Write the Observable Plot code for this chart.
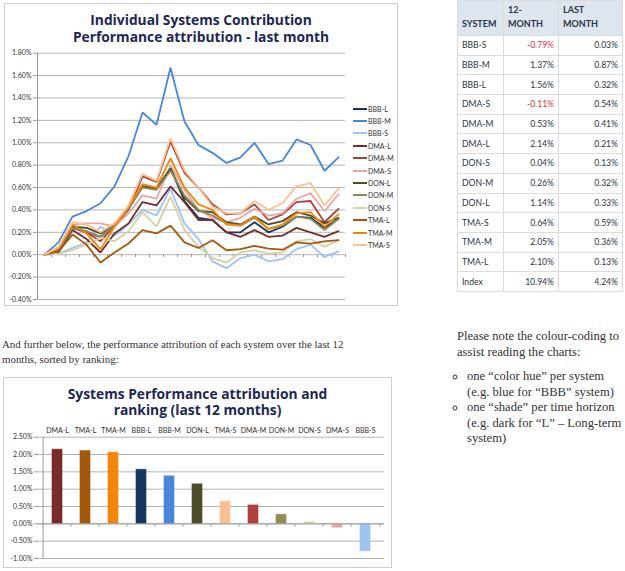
<!DOCTYPE html>
<html><head><meta charset="utf-8">
<script src="https://cdn.jsdelivr.net/npm/d3@7"></script>
<script src="https://cdn.jsdelivr.net/npm/@observablehq/plot@0.6"></script>
<style>
body{margin:0;width:625px;height:571px;position:relative;background:#fff;overflow:hidden;font-family:Lato,sans-serif}
.abs{position:absolute}
.box{position:absolute;box-sizing:border-box;border:1px solid #cfcfcf;background:#fff}
.ctitle{position:absolute;left:0;right:0;text-align:center;font-family:"Open Sans",sans-serif;font-weight:700;font-size:13.8px;line-height:16.5px;color:#1d2756}
.legend{position:absolute;font-family:Lato,sans-serif;font-size:7px;color:#333}
.legend div{height:12.4px;display:flex;align-items:center}
.legend span.sw{display:inline-block;width:14px;height:2px;margin-right:1px}
table{position:absolute;border-collapse:collapse;font-family:Lato,sans-serif;font-size:8.6px;color:#2b3445}
td,th{border:1px solid #dcdcdc;padding:0 4px}
th{background:#dde5ef;font-weight:700;text-align:left;vertical-align:bottom;padding-bottom:4px;line-height:14px;color:#2b3445;font-size:9px}
td{height:18.7px}
td.num{text-align:right}
td.neg{color:#e0303a}
.para{position:absolute;font-family:"Liberation Serif",serif;color:#333}
ul{margin:9px 0 0 0;padding-left:10px;list-style:circle}
li{padding-left:0}
</style></head><body>

<div class="box" style="left:4px;top:3px;width:394px;height:303px" id="lineBox">
  <div class="ctitle" style="top:8px">Individual Systems Contribution<br>Performance attribution - last month</div>
</div>

<table id="tbl" style="left:457px;top:0px;width:166px"></table>

<div class="para" style="left:2px;top:337px;width:350px;font-size:10.9px;line-height:14.5px">And further below, the performance attribution of each system over the last 12<br>months, sorted by ranking:</div>

<div class="para" style="left:457px;top:328px;width:175px;font-size:12.6px;line-height:16px;white-space:nowrap">Please note the colour-coding to<br>assist reading the charts:
<ul style="line-height:15.6px">
<li>one “color hue” per system<br>(e.g. blue for “BBB” system)</li>
<li>one “shade” per time horizon<br>(e.g. dark for “L” – Long-term<br>system)</li>
</ul></div>

<div class="box" style="left:3px;top:377px;width:389px;height:191px" id="barBox">
  <div class="ctitle" style="top:8px;line-height:15.5px">Systems Performance attribution and<br>ranking (last 12 months)</div>
</div>

<script>
// ---------- line chart data (cumulative contribution, %) ----------
const periods = [1,2,3,4,5,6,7,8,9,10,11,12,13,14,15,16,17,18,19,20,21,22];
const systems = ["BBB-L","BBB-M","BBB-S","DMA-L","DMA-M","DMA-S","DON-L","DON-M","DON-S","TMA-L","TMA-M","TMA-S"];
const systemColors = ["#17375e","#4a86d8","#9dc3ee","#772c2a","#b0403c","#e6a6a5","#4e4b2b","#948a54","#d8cfa8","#a4580c","#f0870a","#fbc08f"];
const bbbL = [0,0.03,0.24,0.20,0.16,0.26,0.41,0.61,0.59,0.77,0.48,0.33,0.31,0.20,0.20,0.29,0.20,0.25,0.34,0.33,0.24,0.32];
const bbbM = [0,0.11,0.34,0.39,0.46,0.61,0.88,1.27,1.16,1.67,1.19,0.98,0.91,0.82,0.87,1.00,0.81,0.84,1.03,0.98,0.75,0.87];
const bbbS = [0,0.01,0.06,0.11,0.25,0.17,0.27,0.40,0.35,0.59,0.28,0.14,-0.06,-0.12,-0.03,0.00,-0.06,-0.04,0.05,0.09,-0.02,0.03];
const dmaL = [0,0.02,0.22,0.14,0.02,0.19,0.28,0.47,0.44,0.61,0.47,0.31,0.31,0.20,0.16,0.22,0.16,0.17,0.24,0.20,0.16,0.21];
const dmaM = [0,0.05,0.26,0.20,0.12,0.26,0.40,0.70,0.65,1.01,0.73,0.60,0.45,0.36,0.37,0.45,0.31,0.36,0.47,0.48,0.29,0.41];
const dmaS = [0,0.06,0.27,0.28,0.28,0.25,0.37,0.53,0.50,0.80,0.58,0.40,0.33,0.29,0.33,0.41,0.35,0.37,0.50,0.55,0.39,0.54];
const donL = [0,0.03,0.25,0.24,0.19,0.27,0.42,0.61,0.59,0.77,0.51,0.39,0.38,0.29,0.27,0.34,0.27,0.30,0.38,0.35,0.28,0.33];
const donM = [0,0.04,0.24,0.21,0.16,0.26,0.41,0.60,0.58,0.75,0.53,0.40,0.35,0.28,0.26,0.33,0.23,0.26,0.34,0.32,0.22,0.32];
const donS = [0,0.01,0.04,0.09,0.15,0.12,0.21,0.38,0.25,0.52,0.22,0.07,-0.03,-0.07,0.02,0.04,0.01,0.02,0.12,0.14,0.07,0.13];
const tmaL = [0,0.03,0.18,0.09,-0.07,0.02,0.10,0.22,0.19,0.26,0.11,0.06,0.13,0.04,0.05,0.08,0.055,0.045,0.11,0.10,0.12,0.13];
const tmaM = [0,0.06,0.27,0.19,0.05,0.25,0.43,0.63,0.60,0.86,0.60,0.45,0.40,0.27,0.26,0.34,0.23,0.27,0.37,0.38,0.25,0.36];
const tmaS = [0,0.07,0.29,0.27,0.20,0.28,0.44,0.72,0.66,1.04,0.75,0.60,0.43,0.37,0.37,0.48,0.40,0.46,0.61,0.64,0.44,0.59];
const lineTicks = [-0.4,-0.2,0,0.2,0.4,0.6,0.8,1.0,1.2,1.4,1.6,1.8];

// ---------- table data ----------
const tableSystems = ["BBB-S","BBB-M","BBB-L","DMA-S","DMA-M","DMA-L","DON-S","DON-M","DON-L","TMA-S","TMA-M","TMA-L","Index"];
const twelveMonth = [-0.79,1.37,1.56,-0.11,0.53,2.14,0.04,0.26,1.14,0.64,2.05,2.10,10.94];
const lastMonth = [0.03,0.87,0.32,0.54,0.41,0.21,0.13,0.32,0.33,0.59,0.36,0.13,4.24];

// ---------- bar chart data (ranking) ----------
const rankSystems = ["DMA-L","TMA-L","TMA-M","BBB-L","BBB-M","DON-L","TMA-S","DMA-M","DON-M","DON-S","DMA-S","BBB-S"];
const rankValues = [2.14,2.10,2.05,1.56,1.37,1.14,0.64,0.53,0.26,0.04,-0.11,-0.79];
const barTicks = [-1,-0.5,0,0.5,1,1.5,2,2.5];

const pct = d => (d < 0 ? "-" : "") + Math.abs(d).toFixed(2) + "%";

// ---------- line chart ----------
const seriesList = [bbbL,bbbM,bbbS,dmaL,dmaM,dmaS,donL,donM,donS,tmaL,tmaM,tmaS];
const lineData = systems.flatMap((s, k) => seriesList[k].map((v, i) => ({system: s, period: periods[i], value: v})));
const periodBounds = [0.5].concat(periods.map(p => p + 0.5));

const lineChart = Plot.plot({
  width: 392, height: 301,
  marginLeft: 32, marginRight: 52, marginTop: 48.7, marginBottom: 6,
  x: {domain: [0.5, 22.5], axis: null},
  y: {domain: [-0.4, 1.8], axis: null},
  color: {domain: systems, range: systemColors},
  style: {background: "transparent", fontFamily: "Lato, sans-serif", color: "#333"},
  marks: [
    Plot.ruleY(lineTicks, {stroke: "#b4b4b4", strokeWidth: 1}),
    Plot.ruleX([0.5], {stroke: "#9a9a9a"}),
    Plot.axisY(lineTicks, {tickFormat: pct, tickSize: 4, tickPadding: 2, fontSize: 7, stroke: "#9a9a9a", anchor: "left", label: null}),
    Plot.ruleX(periodBounds, {y1: 0, y2: -0.025, stroke: "#9a9a9a"}),
    Plot.line(lineData, {x: "period", y: "value", z: "system", stroke: "system", strokeWidth: 1.8, strokeLinejoin: "miter"})
  ]
});
lineChart.style.position = "absolute";
lineChart.style.left = "0px";
lineChart.style.top = "0px";
document.getElementById("lineBox").appendChild(lineChart);

// legend
const legend = document.createElement("div");
legend.className = "legend";
legend.style.left = "348px";
legend.style.top = "98.5px";
systems.forEach((s, k) => {
  const row = document.createElement("div");
  row.innerHTML = `<span class="sw" style="background:${systemColors[k]}"></span>${s}`;
  legend.appendChild(row);
});
document.getElementById("lineBox").appendChild(legend);

// ---------- table ----------
const tbl = document.getElementById("tbl");
let html = `<tr style="height:35px"><th style="width:37px">SYSTEM</th><th style="width:46px">12-<br>MONTH</th><th>LAST<br>MONTH</th></tr>`;
tableSystems.forEach((s, i) => {
  const t = twelveMonth[i], l = lastMonth[i];
  html += `<tr><td>${s}</td><td class="num${t < 0 ? " neg" : ""}">${pct(t)}</td><td class="num${l < 0 ? " neg" : ""}">${pct(l)}</td></tr>`;
});
tbl.innerHTML = html;

// ---------- bar chart ----------
const systemColorOf = s => systemColors[systems.indexOf(s)];
const rankData = rankSystems.map((s, i) => ({system: s, value: rankValues[i]}));
const barChart = Plot.plot({
  width: 387, height: 189,
  marginLeft: 34, marginRight: 7, marginTop: 58.7, marginBottom: 9,
  x: {domain: rankSystems, paddingInner: 0.65, paddingOuter: 0.325, axis: null},
  y: {domain: [-1, 2.5], axis: null},
  color: {domain: rankSystems, range: rankSystems.map(systemColorOf)},
  style: {background: "transparent", fontFamily: "Lato, sans-serif", color: "#333"},
  marks: [
    Plot.ruleY(barTicks, {stroke: "#b4b4b4"}),
    Plot.axisY(barTicks, {tickFormat: pct, tickSize: 4, tickPadding: 2, fontSize: 7, stroke: "#9a9a9a", anchor: "left", label: null}),
    Plot.ruleX([rankSystems[0]], {stroke: "#9a9a9a", dx: -14.4}),
    Plot.barY(rankData, {x: "system", y: "value", fill: "system", stroke: "system", strokeOpacity: 0.6}),
    Plot.ruleY([0], {stroke: "#a0a0a0"}),
    Plot.ruleX(rankSystems, {y1: 0, y2: -0.1, stroke: "#a0a0a0", dx: -14.4}),
    Plot.ruleX(rankSystems.slice(-1), {y1: 0, y2: -0.1, stroke: "#a0a0a0", dx: 14.4}),
    Plot.axisX({anchor: "top", tickSize: 0, tickPadding: 4, fontSize: 7, label: null})
  ]
});
barChart.style.position = "absolute";
barChart.style.left = "0px";
barChart.style.top = "0px";
document.getElementById("barBox").appendChild(barChart);
</script>
</body></html>
